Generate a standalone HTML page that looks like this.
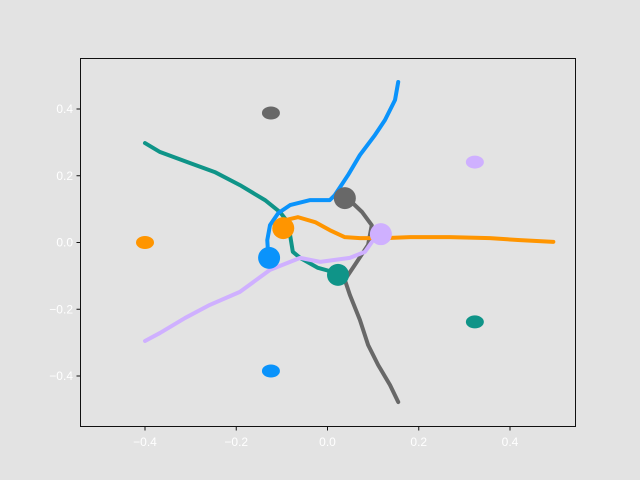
<!DOCTYPE html>
<html><head><meta charset="utf-8"><style>
body{margin:0;background:#e3e3e3;}
svg{display:block;font-family:"Liberation Sans",sans-serif;}
</style></head><body>
<svg id="c" width="640" height="480">
<rect x="0" y="0" width="640" height="480" fill="#e3e3e3"/>
<rect x="80.5" y="58.5" width="495" height="368" fill="#e3e3e3" stroke="#111" stroke-width="1"/>
<g id="marks"></g><g id="axes"></g>
</svg>
<script>
const colors=["#0f9488","#0a93fb","#686868","#ff9500","#cfb0ff"];
const names=["teal","blue","gray","orange","lavender"];
const tealPath=[[-0.40,0.298],[-0.367,0.271],[-0.301,0.238],[-0.247,0.211],[-0.192,0.172],[-0.137,0.127],[-0.104,0.091],[-0.087,0.061],[-0.082,0.022],[-0.076,-0.028],[-0.060,-0.046],[-0.021,-0.076],[0.019,-0.091]];
const bluePath=[[0.155,0.481],[0.148,0.427],[0.126,0.367],[0.104,0.322],[0.071,0.262],[0.045,0.202],[0.016,0.142],[0.005,0.127],[-0.038,0.127],[-0.082,0.112],[-0.108,0.088],[-0.126,0.052],[-0.132,0.007],[-0.130,-0.037]];
const grayPath=[[0.155,-0.478],[0.137,-0.427],[0.111,-0.367],[0.089,-0.307],[0.071,-0.232],[0.049,-0.157],[0.038,-0.112],[0.060,-0.067],[0.089,-0.007],[0.097,0.052],[0.076,0.091],[0.053,0.121]];
const orangePath=[[0.495,0.002],[0.422,0.007],[0.356,0.013],[0.268,0.016],[0.181,0.016],[0.126,0.013],[0.071,0.013],[0.038,0.016],[0.005,0.037],[-0.027,0.061],[-0.065,0.076],[-0.093,0.067]];
const lavenderPath=[[-0.40,-0.295],[-0.367,-0.271],[-0.312,-0.226],[-0.258,-0.187],[-0.192,-0.148],[-0.126,-0.082],[-0.060,-0.046],[-0.016,-0.058],[0.049,-0.046],[0.082,-0.028],[0.097,0.001]];
const endPoints=[[0.023,-0.097],[-0.128,-0.046],[0.038,0.133],[-0.097,0.043],[0.117,0.025]];
const targets=[[0.323,-0.238],[-0.124,-0.385],[-0.124,0.388],[-0.40,0.0],[0.323,0.241]];
const xTicks=[-0.4,-0.2,0.0,0.2,0.4];
const yTicks=[-0.4,-0.2,0.0,0.2,0.4];
const xTickLabels=["\u22120.4","\u22120.2","0.0","0.2","0.4"];
const yTickLabels=["\u22120.4","\u22120.2","0.0","0.2","0.4"];
const paths=[tealPath,bluePath,grayPath,orangePath,lavenderPath];
const sx=v=>327.5+v*456.25, sy=v=>242.5-v*333.75;
const NS="http://www.w3.org/2000/svg";
const m=document.getElementById('marks'), ax=document.getElementById('axes');
function mk(t,a,p){const e=document.createElementNS(NS,t);for(const k in a)e.setAttribute(k,a[k]);p.appendChild(e);return e;}
for(let i=0;i<5;i++){
  const e=mk('ellipse',{cx:sx(targets[i][0]),cy:sy(targets[i][1]),rx:9,ry:6.5,fill:colors[i]},m);
  
  
}
for(let i=0;i<5;i++){
  const p=mk('polyline',{points:paths[i].map(q=>sx(q[0])+','+sy(q[1])).join(' '),fill:'none',stroke:colors[i],'stroke-width':4,'stroke-linejoin':'round','stroke-linecap':'round'},m);
  
  
}
for(let i=0;i<5;i++){
  const c=mk('circle',{cx:sx(endPoints[i][0]),cy:sy(endPoints[i][1]),r:11,fill:colors[i]},m);
  
  
}
xTicks.forEach((v,i)=>{
  const x=sx(v);
  const l=mk('line',{x1:x,x2:x,y1:427,y2:430.5,stroke:'#111'},ax);
  
  
  const t=mk('text',{x:x,y:446,'text-anchor':'middle','font-size':12,fill:'#fff'},ax);
  t.textContent=xTickLabels[i];
  
  
});
yTicks.forEach((v,i)=>{
  const y=sy(v);
  const l=mk('line',{x1:76.5,x2:80,y1:y,y2:y,stroke:'#111'},ax);
  
  
  const t=mk('text',{x:73,y:y+4,'text-anchor':'end','font-size':12,fill:'#fff'},ax);
  t.textContent=yTickLabels[i];
  
  
});
</script>
</body></html>
